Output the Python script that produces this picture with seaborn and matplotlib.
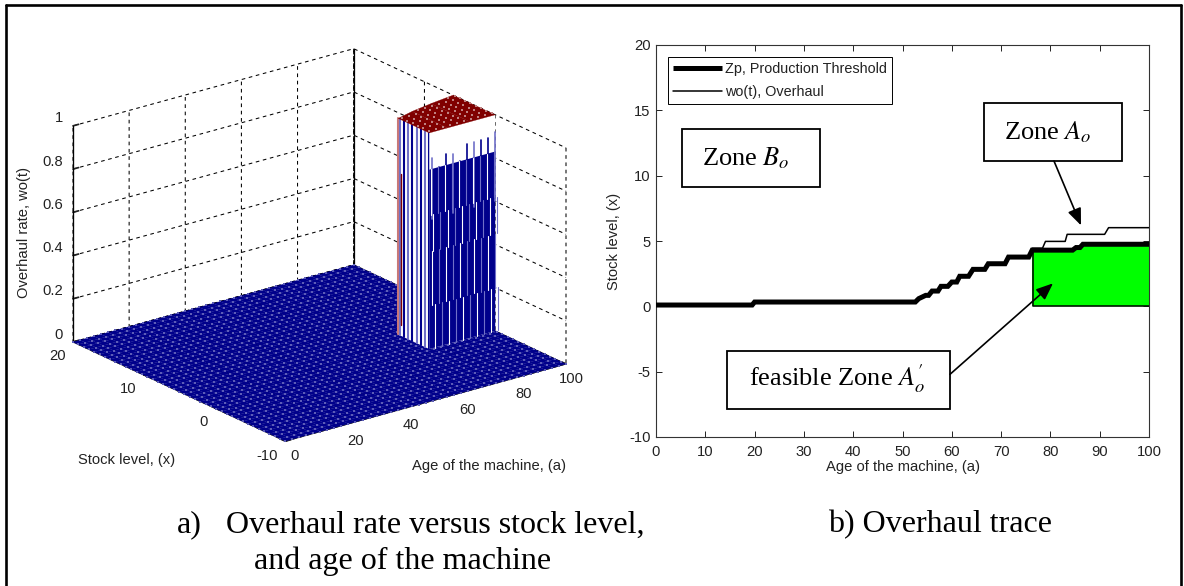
import numpy as np, pandas as pd
import matplotlib
matplotlib.use('Agg')
import matplotlib.pyplot as plt
import seaborn as sns
from mpl_toolkits.mplot3d import proj3d
from mpl_toolkits.mplot3d.art3d import Poly3DCollection

# ---------- data ----------
zp_age = [0, 19.5, 20, 52.6, 53.3, 54.7, 55.3, 56.0, 57.2, 57.8, 59.2, 60.0, 61.0, 61.6, 63.4, 64.3, 66.7, 67.4, 70.8, 71.5, 75.6, 76.3, 84.5, 85.2, 86.0, 86.6, 100]
zp_val = [0.10, 0.10, 0.33, 0.33, 0.59, 0.84, 0.84, 1.17, 1.17, 1.53, 1.53, 1.86, 1.86, 2.30, 2.30, 2.83, 2.83, 3.26, 3.26, 3.77, 3.77, 4.30, 4.30, 4.50, 4.50, 4.75, 4.75]
wo_age = [0, 19.5, 20, 52.6, 53.3, 54.7, 55.3, 56.0, 57.2, 57.8, 59.2, 60.0, 61.0, 61.6, 63.4, 64.3, 66.7, 67.4, 70.8, 71.5, 75.6, 76.3, 78.4, 79.0, 83.0, 83.4, 91.0, 91.8, 100]
wo_val = [0.10, 0.10, 0.33, 0.33, 0.59, 0.84, 0.84, 1.17, 1.17, 1.53, 1.53, 1.86, 1.86, 2.30, 2.30, 2.83, 2.83, 3.26, 3.26, 3.77, 3.77, 4.45, 4.45, 4.97, 4.97, 5.51, 5.51, 6.02, 6.02]
age_ticks = [0, 20, 40, 60, 80, 100]
stock_ticks = [-10, 0, 10, 20]
rate_ticks = [0, 0.2, 0.4, 0.6, 0.8, 1]
rate_labels = ['0', '0.2', '0.4', '0.6', '0.8', '1']
trace_xticks = list(range(0, 101, 10))
trace_yticks = [-10, -5, 0, 5, 10, 15, 20]
age_grid = np.arange(0, 100.1, 2.5)
stock_grid = np.arange(-10, 20.1, 0.75)
zone_start = 76.5
zone_age = [76.5, 83.0, 91.0, 100]
zone_top = [4.4, 5.0, 5.5, 5.95]
front_age = [77.5, 80, 82.5, 85, 87.5, 90, 92.5, 95, 97.5, 100]
front_top = [0.88, 0.83, 0.88, 0.87, 0.83, 0.90, 0.90, 0.90, 0.90, 0.92]
left_stock = [0.0, 0.6, 1.2, 1.8, 2.4, 3.0, 3.6, 4.2]

W, H = 1184, 586
NAVY = '#00008B'; RED = '#800000'; PALE = '#7070C8'
DOT = '#5C5CB8'
FS = 10.6

sns.set_theme(style='ticks')
plt.rcParams.update({'font.family': ['Liberation Sans', 'DejaVu Sans'],
                     'mathtext.fontset': 'stix', 'axes.edgecolor': '#333333',
                     'axes.unicode_minus': False,
                     'xtick.color': '#222222', 'ytick.color': '#222222',
                     'text.color': '#222222', 'axes.labelcolor': '#222222'})
fig = plt.figure(figsize=(W / 100, H / 100), dpi=100, facecolor='white')
def fx(x): return x / W
def fy(y): return 1 - y / H

# ---------- a) 3-D surface ----------
side = 560.0
cx, cy = 320.0, 245.0
ax3 = fig.add_axes([fx(cx - side / 2), fy(cy + side / 2), side / W, side / H], projection='3d', proj_type='ortho', computed_zorder=False)
ax3.set_xlim(0, 100, view_margin=0); ax3.set_ylim(-10, 20, view_margin=0); ax3.set_zlim(0, 1, view_margin=0)
ax3.view_init(elev=21, azim=-127.5)
ax3.set_box_aspect((353, 348, 231))
ax3.patch.set_alpha(0)
ax3.set_xticks(age_ticks); ax3.set_yticks(stock_ticks); ax3.set_zticks(rate_ticks); ax3.set_zticklabels(rate_labels)
for a in (ax3.xaxis, ax3.yaxis, ax3.zaxis):
    a.set_pane_color((1, 1, 1, 1)); a.pane.set_edgecolor('none')
    a._axinfo['grid'].update(color='black', linewidth=0.75, linestyle=(0, (3.5, 3.5)))
    a._axinfo['tick'].update(inward_factor=0.0, outward_factor=0.25)
    a.line.set_color('#333333'); a.line.set_linewidth(0.8)
ax3.tick_params(labelsize=FS, colors='#222222')
ax3.tick_params(axis='x', pad=-3); ax3.tick_params(axis='y', pad=-3); ax3.tick_params(axis='z', pad=-4)
ax3.zaxis.set_ticks_position('upper')
for lab in ax3.get_xticklabels():
    lab.set_ha('center' if lab.get_text() == '100' else 'left')
for lab in ax3.get_yticklabels():
    lab.set_ha('right')
for lab in ax3.get_zticklabels():
    lab.set_ha('right'); lab.set_va('bottom')

# back verticals
ax3.plot([0, 0], [20, 20], [0, 1], color='black', lw=0.9, zorder=1)
ax3.plot([100, 100], [20, 20], [0, 1], color='black', lw=0.9, zorder=1)

Xg, Yg = np.meshgrid(age_grid, stock_grid)
ax3.plot_surface(Xg, Yg, np.zeros_like(Xg), color=NAVY, shade=False, rstride=1, cstride=1, edgecolor=NAVY, linewidth=0.2, zorder=2)
ax3.scatter(Xg.ravel(), Yg.ravel(), np.zeros(Xg.size), s=0.62, c=DOT, marker='s', linewidths=0, depthshade=False, zorder=3)

# tower walls
za, zt = np.array(zone_age), np.array(zone_top)
left_wall = [[(zone_start, 0, 0), (zone_start, zt[0], 0), (zone_start, zt[0], 1), (zone_start, 0, 1)]]
front_wall = [[(zone_start, 0, 0), (100, 0, 0), (100, 0, 1), (zone_start, 0, 1)]]
ax3.add_collection3d(Poly3DCollection(left_wall, facecolor='white', edgecolor='none', zorder=4))
ax3.add_collection3d(Poly3DCollection(front_wall, facecolor='white', edgecolor='none', zorder=5))
for i, s in enumerate(left_stock):
    col = NAVY if i % 2 == 0 else PALE
    ax3.plot([zone_start] * 2, [s, s], [0, 1], color=col, lw=1.5, zorder=4.5)
ax3.plot([zone_start] * 2, [4.45, 4.45], [0, 1], color='#C87878', lw=1.5, zorder=4.6)
ax3.plot([zone_start] * 2, [4.0, 4.0], [0.05, 0.75], color=RED, lw=1.0, zorder=4.6)
body = [[(zone_start, 0, 0), (100, 0, 0), (100, 0, 0.83), (zone_start, 0, 0.83)]]
ax3.add_collection3d(Poly3DCollection(body, facecolor=NAVY, edgecolor='none', zorder=5.1))
bands = [(0.0, 0.2, 0.9), (0.2, 0.45, 0.0), (0.45, 0.62, 0.5), (0.62, 0.83, -0.4)]
for k, (a_, t_) in enumerate(zip(front_age, front_top)):
    ax3.plot([a_, a_], [0, 0], [0.6, t_], color=NAVY if k % 3 else PALE, lw=1.2, zorder=5.2)
    for lo, hi, off in bands:
        ax3.plot([a_ + off] * 2, [0, 0], [lo, hi], color=PALE if (k + int(lo * 10)) % 2 else 'white', lw=0.8, zorder=5.3)

# tower top
Xt = np.column_stack([za, za]); Yt = np.column_stack([np.zeros_like(zt), zt])
ax3.plot_surface(Xt, Yt, np.ones_like(Xt), color=RED, shade=False, edgecolor=RED, linewidth=0.2, zorder=6)
top_edge = np.interp(Xg.ravel(), za, zt)
mask = (Xg.ravel() >= zone_start) & (Yg.ravel() >= 0) & (Yg.ravel() <= top_edge)
ax3.scatter(Xg.ravel()[mask], Yg.ravel()[mask], np.ones(mask.sum()), s=0.62, c='#C08080', marker='s', linewidths=0, depthshade=False, zorder=7)

# fit the projected box on the reference corners
fig.canvas.draw()
def corner_px(x, y, z):
    px_, py_, _ = proj3d.proj_transform(x, y, z, ax3.get_proj())
    d = ax3.transData.transform((px_, py_))
    return d[0], H - d[1]
l = corner_px(0, 20, 0); r = corner_px(100, -10, 0)
s_ = (566 - 73) / (r[0] - l[0])
tx, ty = (73 + 566) / 2, (341 + 365) / 2
mx, my = (l[0] + r[0]) / 2, (l[1] + r[1]) / 2
side2 = side * s_
ncx = tx - (mx - cx) * s_; ncy = ty - (my - cy) * s_
ax3.set_position([fx(ncx - side2 / 2), fy(ncy + side2 / 2), side2 / W, side2 / H])

fig.text(fx(127), fy(460), 'Stock level, (x)', ha='center', va='center', fontsize=FS)
fig.text(fx(489), fy(466), 'Age of the machine, (a)', ha='center', va='center', fontsize=FS)
fig.text(fx(24), fy(233), 'Overhaul rate, wo(t)', ha='center', va='center', rotation=90, fontsize=FS)

# ---------- b) trace ----------
ax = fig.add_axes([fx(656), fy(437), (1149 - 656) / W, (437 - 45) / H], zorder=5)
ax.set_xlim(0, 100); ax.set_ylim(-10, 20)
green_mask = np.array(zp_age) >= 76.3
ax.fill_between(np.array(zp_age)[green_mask], 0, np.array(zp_val)[green_mask], facecolor='#00FF00', edgecolor='none', zorder=1)
ax.plot([76.5, 76.5, 100], [4.3, 0, 0], color='black', lw=1.1, zorder=2)
df_z = pd.DataFrame({'a': zp_age, 'v': zp_val}); df_w = pd.DataFrame({'a': wo_age, 'v': wo_val})
sns.lineplot(data=df_z, x='a', y='v', ax=ax, color='black', lw=3.6, sort=False, estimator=None, errorbar=None, label='Zp, Production Threshold', solid_capstyle='butt', solid_joinstyle='miter', zorder=3)
sns.lineplot(data=df_w, x='a', y='v', ax=ax, color='black', lw=1.1, sort=False, estimator=None, errorbar=None, label='wo(t), Overhaul', zorder=3)
ax.set_xticks(trace_xticks); ax.set_yticks(trace_yticks)
ax.tick_params(direction='in', top=True, right=True, labelsize=FS, length=4.5, width=0.7)
ax.tick_params(axis='x', pad=6); ax.tick_params(axis='y', pad=4)
ax.set_xlabel('Age of the machine, (a)', fontsize=FS, labelpad=0.5)
ax.set_ylabel('Stock level, (x)', fontsize=FS, labelpad=6)
for sp in ax.spines.values():
    sp.set_linewidth(0.8); sp.set_color('#333333')
leg = ax.legend(loc='upper left', bbox_to_anchor=((667.7 - 656) / 493, 1 - (56.7 - 45) / 392), borderaxespad=0,
                fancybox=False, framealpha=1, edgecolor='black', fontsize=10.4, handlelength=3.4,
                handletextpad=0.2, labelspacing=0.65, borderpad=0.35)
leg.get_frame().set_linewidth(0.7)

def px2d(x, y):
    return (x - 656) / 4.93, (306 - y) / 13.07
def box(x0, y0, x1, y1, txt, tx_, ty_):
    (a0, b0), (a1, b1) = px2d(x0, y1), px2d(x1, y0)
    ax.add_patch(plt.Rectangle((a0, b0), a1 - a0, b1 - b0, facecolor='white', edgecolor='black', lw=1.3, zorder=6))
    t = ax.text(*px2d(tx_, ty_), txt, family='Liberation Serif', fontsize=19, color='black', ha='left', va='center', zorder=7)
    return t
box(681.6, 128.7, 819.9, 186.7, 'Zone $B_o$', 702, 158)
box(983.8, 102.7, 1122, 160.7, 'Zone $A_o$', 1004, 132)
box(727, 350.7, 950, 408.3, "feasible Zone $A_o'$", 749, 378)
arrow = dict(arrowstyle='-|>,head_length=0.85,head_width=0.35', color='black', lw=1.2, shrinkA=0, shrinkB=0)
ax.annotate('', xy=px2d(1081, 225), xytext=px2d(1054, 160.7), arrowprops=arrow, zorder=6)
ax.annotate('', xy=px2d(1053, 283), xytext=px2d(950, 374), arrowprops=arrow, zorder=6)

# ---------- page frame and captions ----------
for xs, ys in (([6, 6], [586, 5]), ([6, 1181], [5, 5]), ([1181, 1181], [5, 586])):
    fig.add_artist(plt.Line2D([fx(v) for v in xs], [fy(v) for v in ys], color='black', lw=1.9))
cap = dict(family='Liberation Serif', fontsize=23, color='black', va='center', ha='left')
fig.text(fx(177), fy(525), 'a)', **cap)
fig.text(fx(226), fy(525), 'Overhaul rate versus stock level,', **cap)
fig.text(fx(254), fy(561), 'and age of the machine', **cap)
fig.text(fx(828), fy(525), 'b) Overhaul trace', **cap)

fig.savefig('out.png', dpi=100, facecolor='white')
